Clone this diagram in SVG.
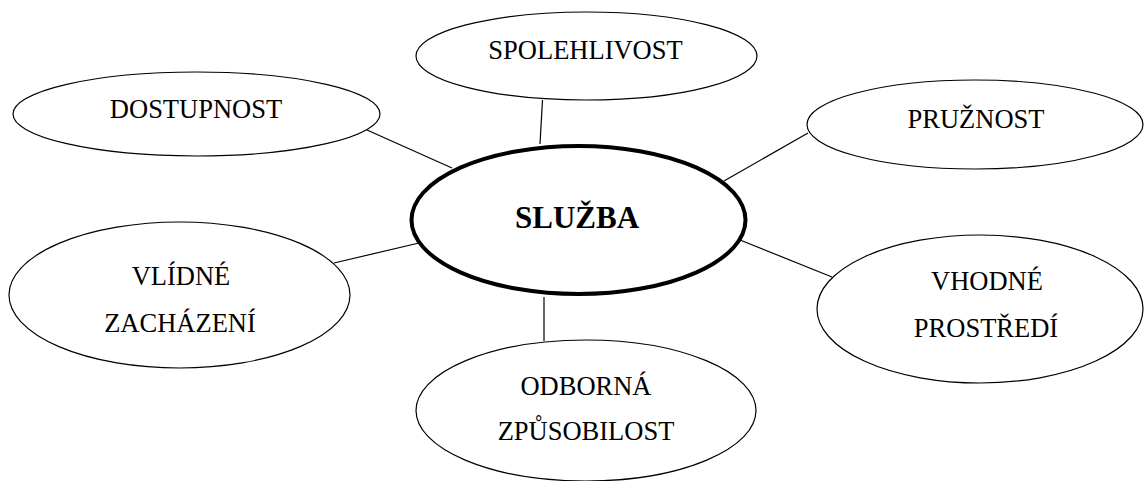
<svg xmlns="http://www.w3.org/2000/svg" width="1145" height="481" viewBox="0 0 1145 481">
<style>
.n{fill:#fff;stroke:#000;stroke-width:1.2}
.c{fill:#fff;stroke:#000;stroke-width:4}
.t{font-family:"Liberation Serif","Times New Roman",serif;font-size:26.5px;fill:#000;text-anchor:middle}
.b{font-family:"Liberation Serif","Times New Roman",serif;font-size:31px;font-weight:bold;fill:#000;text-anchor:middle}
.l{stroke:#000;stroke-width:1.2;fill:none}
</style>
<rect width="1145" height="481" fill="#fff"/>
<g id="connectors">
<line class="l" x1="542.5" y1="100" x2="540" y2="144"/>
<line class="l" x1="367" y1="130" x2="452" y2="168"/>
<line class="l" x1="808" y1="133" x2="724" y2="181"/>
<line class="l" x1="334" y1="263" x2="419" y2="243"/>
<line class="l" x1="740" y1="240" x2="832" y2="277"/>
<line class="l" x1="544" y1="297" x2="544" y2="341"/>
</g>
<g id="spolehlivost">
<ellipse class="n" cx="586.5" cy="56" rx="170.5" ry="44"/>
<text class="t" x="585.5" y="59">SPOLEHLIVOST</text>
</g>
<g id="dostupnost">
<ellipse class="n" cx="196.5" cy="114" rx="183.5" ry="42"/>
<text class="t" x="196" y="118">DOSTUPNOST</text>
</g>
<g id="pruznost">
<ellipse class="n" cx="975" cy="124.5" rx="168" ry="44.5"/>
<text class="t" x="976" y="128">PRUŽNOST</text>
</g>
<g id="vlidne">
<ellipse class="n" cx="179.5" cy="295" rx="170.5" ry="73"/>
<text class="t" x="181" y="285">VLÍDNÉ</text>
<text class="t" x="180" y="332">ZACHÁZENÍ</text>
</g>
<g id="vhodne">
<ellipse class="n" cx="980" cy="309" rx="163" ry="74"/>
<text class="t" x="987" y="290">VHODNÉ</text>
<text class="t" x="986" y="337">PROSTŘEDÍ</text>
</g>
<g id="odborna">
<ellipse class="n" cx="586" cy="410.5" rx="170" ry="70.5"/>
<text class="t" x="586" y="395">ODBORNÁ</text>
<text class="t" x="586" y="440">ZPŮSOBILOST</text>
</g>
<g id="sluzba">
<ellipse class="c" cx="578.5" cy="220" rx="167" ry="74"/>
<text class="b" x="577" y="228">SLUŽBA</text>
</g>
</svg>
